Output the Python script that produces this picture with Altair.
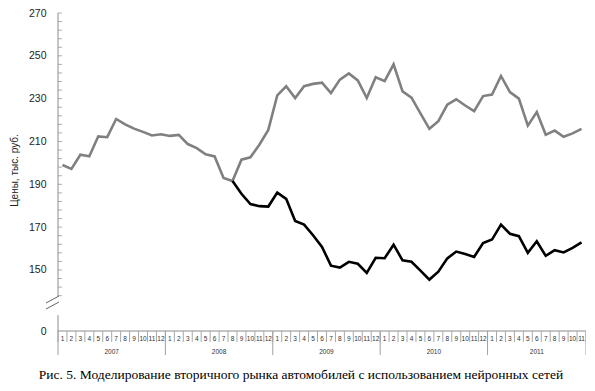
import altair as alt
import pandas as pd

# ---------------- data ----------------
years = [2007, 2008, 2009, 2010, 2011]
months_per_year = [12, 12, 12, 12, 11]

gray_values = [
    199.0, 197.2, 203.8, 203.1, 212.4, 212.0, 220.5, 218.0, 216.0, 214.5, 212.8, 213.4,
    212.6, 213.1, 208.8, 206.9, 204.0, 203.0, 193.0, 191.5, 201.5, 202.6, 208.5, 215.4,
    231.5, 235.8, 230.3, 235.8, 236.9, 237.5, 232.6, 238.9, 241.8, 238.5, 230.3, 240.0,
    238.2, 246.0, 233.4, 230.5, 223.1, 215.9, 219.5, 227.2, 229.7, 226.8, 224.2, 231.2,
    231.9, 240.6, 233.1, 230.0, 217.4, 223.7, 213.1, 215.1, 212.2, 213.8, 215.9,
]
black_start = 19  # August 2008
black_values = [
    191.5, 185.6, 180.8, 179.8, 179.6,
    186.1, 183.2, 172.9, 171.2, 166.2, 160.8, 152.0, 151.1, 153.8, 152.9, 148.6, 155.7,
    155.5, 161.8, 154.5, 153.8, 149.7, 145.5, 149.2, 155.4, 158.6, 157.5, 156.1, 162.6,
    164.2, 171.2, 166.9, 165.8, 158.0, 163.4, 156.6, 159.2, 158.2, 160.3, 162.9,
]
y_labels = [0, 150, 170, 190, 210, 230, 250, 270]
minor_ticks = list(range(138, 271, 4))
y_title = "Цены, тыс. руб."
caption = "Рис. 5. Моделирование вторичного рынка автомобилей с использованием нейронных сетей"

# ---------------- tables ----------------
n_months = sum(months_per_year)
month_pos, month_lbl = [], []
year_pos, year_lbl, year_bounds = [], [], [0]
start = 0
for y, n in zip(years, months_per_year):
    for m in range(1, n + 1):
        month_pos.append(start + m - 0.5)
        month_lbl.append(str(m))
    year_pos.append(start + n / 2)
    year_lbl.append(str(y))
    start += n
    year_bounds.append(start)

gray_df = pd.DataFrame({"pos": [i + 0.5 for i in range(len(gray_values))], "value": gray_values})
black_df = pd.DataFrame({"pos": [black_start + i + 0.5 for i in range(len(black_values))],
                         "value": black_values})
months_df = pd.DataFrame({"pos": month_pos, "lbl": month_lbl})
years_df = pd.DataFrame({"pos": year_pos, "lbl": year_lbl})
mbounds_df = pd.DataFrame({"b": list(range(n_months + 1))})
ybounds_df = pd.DataFrame({"b": year_bounds})
ticks_df = pd.DataFrame({"value": minor_ticks})
yaxis_df = pd.DataFrame({"value": [137.7, 0], "value2": [270, 63]})
xaxis_df = pd.DataFrame({"x0": [0], "x1": [n_months], "value": [0]})
one = pd.DataFrame({"k": [0]})
cap_df = pd.DataFrame({"caption": [caption]})

W, H = 528, 318
FONT = "Liberation Sans"
xscale = alt.Scale(domain=[0, n_months], nice=False, zero=False)
yscale = alt.Scale(domain=[0, 137.7, 270], range=[H, H - 34.7, 0], nice=False, zero=False)

yaxis = alt.Axis(values=y_labels, domain=False, ticks=False, grid=False,
                 labelPadding=12, labelFontSize=10.5, labelFont=FONT, labelColor="#222",
                 title=y_title, titleFont=FONT, titleFontSize=10, titleFontWeight="normal",
                 titleColor="#222", titleX=-44, titleY=157, titleAngle=270,
                 titleAlign="center", titleBaseline="middle")


def Y(field):
    return alt.Y(field, scale=yscale, axis=yaxis)


def X(field):
    return alt.X(field, scale=xscale, axis=None)


AXC = "#8c8c8c"

gray_line = alt.Chart(gray_df).mark_line(color="#808080", strokeWidth=2.6).encode(
    x=X("pos:Q"), y=Y("value:Q"),
)
black_line = alt.Chart(black_df).mark_line(color="#000000", strokeWidth=2.6).encode(
    x=X("pos:Q"), y=Y("value:Q"),
)
y_rules = alt.Chart(yaxis_df).mark_rule(color=AXC, strokeWidth=1).encode(
    x=alt.value(0), y=Y("value:Q"), y2="value2:Q",
)
y_ticks = alt.Chart(ticks_df).mark_tick(color=AXC, orient="horizontal", size=4, thickness=1).encode(
    x=alt.value(2), y=Y("value:Q"),
)
x_rule = alt.Chart(xaxis_df).mark_rule(color=AXC, strokeWidth=1).encode(
    x=X("x0:Q"), x2="x1:Q", y=Y("value:Q"),
)
m_sep = alt.Chart(mbounds_df).mark_rule(color="#a8a8a8", strokeWidth=1).encode(
    x=X("b:Q"), y=alt.value(H), y2=alt.value(H + 11),
)
y_sep = alt.Chart(ybounds_df).mark_rule(color="#a0a0a0", strokeWidth=1).encode(
    x=X("b:Q"), y=alt.value(H), y2=alt.value(H + 24),
)
m_txt = alt.Chart(months_df).mark_text(font=FONT, fontSize=6.5, color="#333",
                                        baseline="middle", align="center").encode(
    x=X("pos:Q"), y=alt.value(H + 8), text="lbl:N",
)
y_txt = alt.Chart(years_df).mark_text(font=FONT, fontSize=6.5, color="#333",
                                       baseline="middle", align="center").encode(
    x=X("pos:Q"), y=alt.value(H + 21), text="lbl:N",
)
brk1 = alt.Chart(one).mark_rule(color="#666", strokeWidth=1).encode(
    x=alt.value(-12), x2=alt.value(1), y=alt.value(H - 28), y2=alt.value(H - 35))
brk2 = alt.Chart(one).mark_rule(color="#666", strokeWidth=1).encode(
    x=alt.value(-12), x2=alt.value(1), y=alt.value(H - 22), y2=alt.value(H - 29))
cap = alt.Chart(cap_df).mark_text(font="Liberation Serif, Times New Roman, serif", fontSize=13.5,
                                  color="#000", baseline="middle", align="center").encode(
    x=alt.value(243), y=alt.value(H + 44), text="caption:N")

chart = alt.layer(
    gray_line, y_rules, y_ticks, x_rule, m_sep, y_sep, m_txt, y_txt, brk1, brk2,
    black_line, cap,
).properties(
    width=W, height=H,
    autosize=alt.AutoSizeParams(type="none"),
    padding={"left": 50, "top": 5, "right": 0, "bottom": 52},
    background="white",
).configure_view(stroke=None)

chart.save("out.html", embed_options={"renderer": "svg", "actions": False})
